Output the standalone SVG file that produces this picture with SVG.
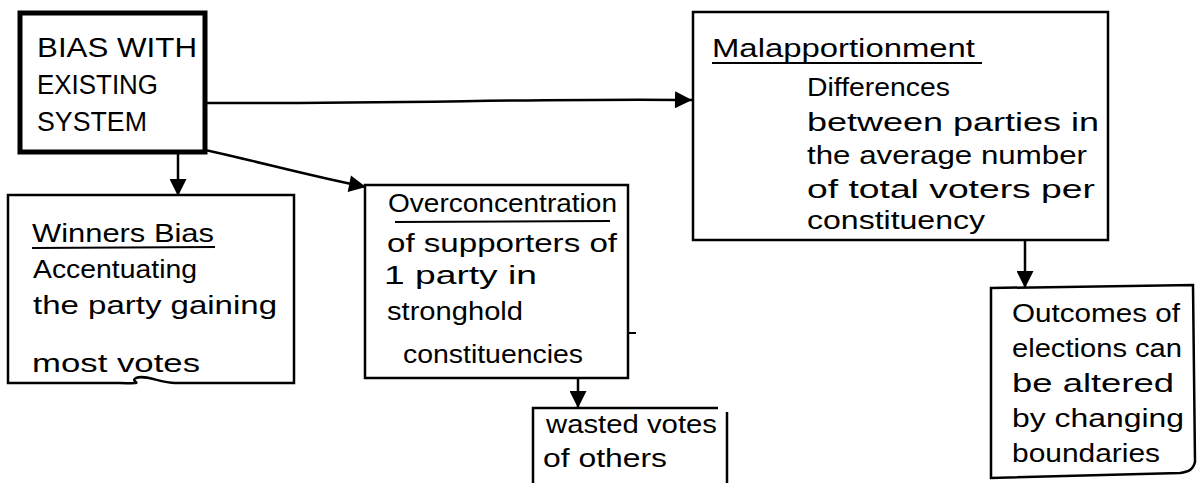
<svg xmlns="http://www.w3.org/2000/svg" width="1198" height="483" viewBox="0 0 1198 483">
  <defs>
    <marker id="head" viewBox="0 0 10 10" refX="10" refY="5" markerUnits="userSpaceOnUse" markerWidth="19" markerHeight="17" orient="auto">
      <path d="M0,0 L10,5 L0,10 z" fill="#000"/>
    </marker>
    <style>
      .box { fill: #fff; stroke: #000; stroke-width: 2.5; }
      .thick { stroke-width: 5; }
      .edge { fill: none; stroke: #000; stroke-width: 2.5; marker-end: url(#head); }
      .ul { fill: none; stroke: #000; stroke-width: 2; }
      text { font-family: "Liberation Sans", Arial, sans-serif; font-size: 25px; fill: #000; }
      .caps { font-size: 27px; }
    </style>
  </defs>

  <rect width="1198" height="483" fill="#fff"/>

  <!-- connectors -->
  <g id="connectors">
    <path class="edge" d="M207,103 C400,104 550,98 692,100"/>
    <path class="edge" d="M178,153 L178,196"/>
    <path class="edge" d="M205,150 C260,162 310,176 366,187"/>
    <path class="edge" d="M578,378 L578,408"/>
    <path class="edge" d="M1025,240 L1025,288"/>
  </g>

  <!-- root node -->
  <g id="bias-existing-system">
    <rect class="box thick" x="20" y="13" width="185" height="139"/>
    <text class="caps" x="37" y="57" textLength="160" lengthAdjust="spacingAndGlyphs">BIAS WITH</text>
    <text class="caps" x="37" y="94" textLength="121" lengthAdjust="spacingAndGlyphs">EXISTING</text>
    <text class="caps" x="37" y="131" textLength="110" lengthAdjust="spacingAndGlyphs">SYSTEM</text>
  </g>

  <g id="winners-bias">
    <path class="box" d="M8,195 L294,195 L294,383 L175,383 C160,383 145,374 136,378 C128,382 150,384 120,383 L8,383 Z"/>
    <text x="32" y="242" textLength="182" lengthAdjust="spacingAndGlyphs">Winners Bias</text>
    <path class="ul" d="M32,248 L215,247"/>
    <text x="33" y="278" textLength="164" lengthAdjust="spacingAndGlyphs">Accentuating</text>
    <text x="33" y="314" textLength="244" lengthAdjust="spacingAndGlyphs">the party gaining</text>
    <text x="32" y="372" textLength="168" lengthAdjust="spacingAndGlyphs">most votes</text>
  </g>

  <g id="overconcentration">
    <rect class="box" x="365" y="185" width="263" height="193"/>
    <path class="ul" d="M628,333 L636,333"/>
    <text x="388" y="212" textLength="229" lengthAdjust="spacingAndGlyphs">Overconcentration</text>
    <path class="ul" d="M395,222 L610,221"/>
    <text x="387" y="252" textLength="230" lengthAdjust="spacingAndGlyphs">of supporters of</text>
    <text x="384" y="284" textLength="153" lengthAdjust="spacingAndGlyphs">1 party in</text>
    <text x="387" y="320" textLength="136" lengthAdjust="spacingAndGlyphs">stronghold</text>
    <text x="403" y="363" textLength="180" lengthAdjust="spacingAndGlyphs">constituencies</text>
  </g>

  <g id="wasted-votes">
    <path class="box" d="M533,483 L533,408 L718,408"/>
    <path class="ul" d="M727,412 L727,483" style="stroke-width:2.5"/>
    <text x="546" y="433" textLength="171" lengthAdjust="spacingAndGlyphs">wasted votes</text>
    <text x="543" y="467" textLength="124" lengthAdjust="spacingAndGlyphs">of others</text>
  </g>

  <g id="malapportionment">
    <rect class="box" x="693" y="12" width="415" height="228"/>
    <text x="712" y="57" textLength="263" lengthAdjust="spacingAndGlyphs">Malapportionment</text>
    <path class="ul" d="M712,63 L982,63"/>
    <text x="807" y="96" textLength="143" lengthAdjust="spacingAndGlyphs">Differences</text>
    <text x="807" y="131" textLength="292" lengthAdjust="spacingAndGlyphs">between parties in</text>
    <text x="807" y="164" textLength="280" lengthAdjust="spacingAndGlyphs">the average number</text>
    <text x="807" y="198" textLength="288" lengthAdjust="spacingAndGlyphs">of total voters per</text>
    <text x="807" y="229" textLength="178" lengthAdjust="spacingAndGlyphs">constituency</text>
  </g>

  <g id="outcomes">
    <path class="box" d="M991,288 L1193,285 L1195,462 C1193,470 1188,472 1180,473 L991,478 Z"/>
    <text x="1012" y="322" textLength="168" lengthAdjust="spacingAndGlyphs">Outcomes of</text>
    <text x="1012" y="357" textLength="170" lengthAdjust="spacingAndGlyphs">elections can</text>
    <text x="1012" y="392" textLength="162" lengthAdjust="spacingAndGlyphs">be altered</text>
    <text x="1012" y="427" textLength="172" lengthAdjust="spacingAndGlyphs">by changing</text>
    <text x="1012" y="462" textLength="148" lengthAdjust="spacingAndGlyphs">boundaries</text>
  </g>
</svg>
